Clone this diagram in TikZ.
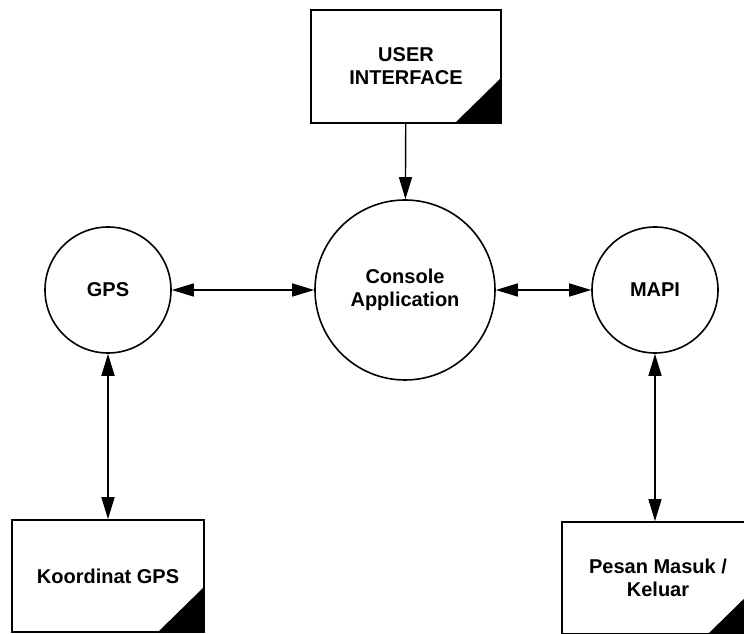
\documentclass[tikz,border=0pt]{standalone}
\usepackage{fontspec}
\setmainfont{Liberation Sans}
\usetikzlibrary{arrows.meta}

\begin{document}
\begin{tikzpicture}[x=1pt, y=1pt,
  every node/.style = {font=\fontsize{20}{23}\selectfont\bfseries, align=center},
  proc/.style = {circle, draw, line width=1.6pt, minimum size=#1, inner sep=0pt},
  proc/.default = 126pt,
  docbox/.style = {rectangle, draw, line width=1.6pt, minimum width=192pt, minimum height=112pt,
    path picture={\fill (path picture bounding box.south east) -- ++(-46pt,0) -- ++(46pt,45pt) -- cycle;}},
  flow/.style = {line width=1.4pt, -{Triangle[length=22pt,width=13pt]}},
  dflow/.style = {line width=1.4pt, {Triangle[length=22pt,width=13pt]}-{Triangle[length=22pt,width=13pt]}}]

\useasboundingbox (0,0) rectangle (744,634);

% Boxes
\node[docbox, minimum width=190pt, minimum height=113pt] (ui) at (406,567.5) {USER\\INTERFACE};
\node[docbox] (koord) at (108,58) {Koordinat GPS};
\node[docbox] (pesan) at (658,56) {Pesan Masuk /\\Keluar};

% Processes
\node[proc=180pt] (console) at (405,344) {Console\\Application};
\node[proc] (gps) at (108,344) {GPS};
\node[proc] (mapi) at (655,344) {MAPI};

% Flows
\draw[flow] (ui) -- (console);
\draw[dflow] (gps) -- (console);
\draw[dflow] (console) -- (mapi);
\draw[dflow] (gps) -- (koord);
\draw[dflow] (mapi.south) -- (mapi.south |- pesan.north);

\end{tikzpicture}
\end{document}
